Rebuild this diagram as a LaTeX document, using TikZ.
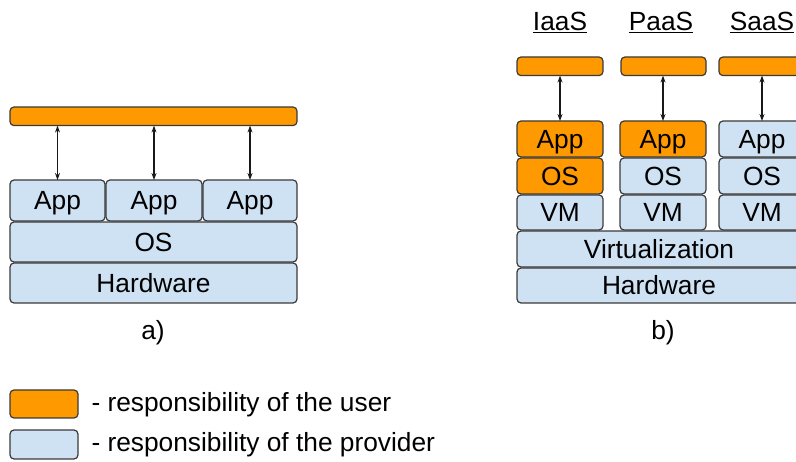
\documentclass[tikz,border=0pt]{standalone}
\usepackage{fontspec}
\setmainfont{Liberation Sans}
\usetikzlibrary{arrows.meta}
\definecolor{userorange}{HTML}{FF9900}
\definecolor{provblue}{HTML}{CFE2F3}
\definecolor{edgegray}{HTML}{3A3A3A}
\tikzset{
  layer/.style={draw=edgegray, line width=1.2pt, rounded corners=4pt,
    inner sep=0pt, outer sep=0pt, anchor=north west,
    text height=18.6pt, text depth=0pt,
    font=\fontsize{26.3}{30}\selectfont, text=black},
  userbox/.style={layer, fill=userorange},
  provbox/.style={layer, fill=provblue},
  link/.style={line width=1.2pt, draw=black!90,
    {Stealth[length=7pt,width=5pt]}-{Stealth[length=7pt,width=5pt]}},
  caption/.style={font=\fontsize{26.3}{30}\selectfont, text=black}
}
% box from top-left corner with given size
\newcommand{\layerbox}[6]{%
  \node[#1, minimum width=#4pt, minimum height=#5pt] (#2) at (#3) {#6};}
\begin{document}
\begin{tikzpicture}[x=1pt, y=-1pt]
\useasboundingbox (0,0) rectangle (796,462);
\clip (0,0) rectangle (796,462);

% ---------- a) single host ----------
\layerbox{userbox}{ubar}{10,107}{287}{17}{}
\layerbox{provbox}{appA}{10,180}{95}{41}{App}
\layerbox{provbox}{appB}{106,180}{96}{41}{App}
\layerbox{provbox}{appC}{203,180}{94}{41}{App}
\layerbox{provbox}{osA}{10,222}{287}{40}{OS}
\layerbox{provbox}{hwA}{10,263}{287}{40}{Hardware}
\draw[link] (ubar.south -| appA) -- (appA.north);
\draw[link] (ubar.south -| appB) -- (appB.north);
\draw[link] (ubar.south -| appC) -- (appC.north);
\node[caption] (capA) at (153,333) {a)};

% ---------- b) cloud service models ----------
\node[caption] (tIaaS) at (560,22) {\underline{IaaS}};
\node[caption] (tPaaS) at (661,22) {\underline{PaaS}};
\node[caption] (tSaaS) at (762,22) {\underline{SaaS}};

\layerbox{userbox}{barI}{517,57}{86}{15}{}
\layerbox{userbox}{barP}{621,57}{85}{15}{}
\layerbox{userbox}{barS}{719,57}{90}{15}{}

\layerbox{userbox}{appI}{517,121}{86}{36}{App}
\layerbox{userbox}{osI}{517,158}{86}{36}{OS}
\layerbox{provbox}{vmI}{517,195}{86}{35}{VM}

\layerbox{userbox}{appP}{620,121}{86}{36}{App}
\layerbox{provbox}{osP}{620,158}{86}{36}{OS}
\layerbox{provbox}{vmP}{620,195}{86}{35}{VM}

\layerbox{provbox}{appS}{719,121}{86}{36}{App}
\layerbox{provbox}{osS}{719,158}{86}{36}{OS}
\layerbox{provbox}{vmS}{719,195}{86}{35}{VM}

\layerbox{provbox}{virt}{517,231}{288}{36}{\hspace*{-4pt}Virtualization}
\layerbox{provbox}{hwB}{517,268}{288}{35}{\hspace*{-4pt}Hardware}

\draw[link] (barI.south -| appI) -- (appI.north);
\draw[link] (barP.south -| appP) -- (appP.north);
\draw[link] (barS.south -| appS) -- (appS.north);
\node[caption] (capB) at (663,333) {b)};

% ---------- legend ----------
\layerbox{userbox}{keyU}{10,390}{68}{28}{}
\layerbox{provbox}{keyP}{10,430}{68}{29}{}
\node[caption, anchor=west] (txtU) at (88,405) {- responsibility of the user};
\node[caption, anchor=west] (txtP) at (88,445) {- responsibility of the provider};
\end{tikzpicture}
\end{document}
